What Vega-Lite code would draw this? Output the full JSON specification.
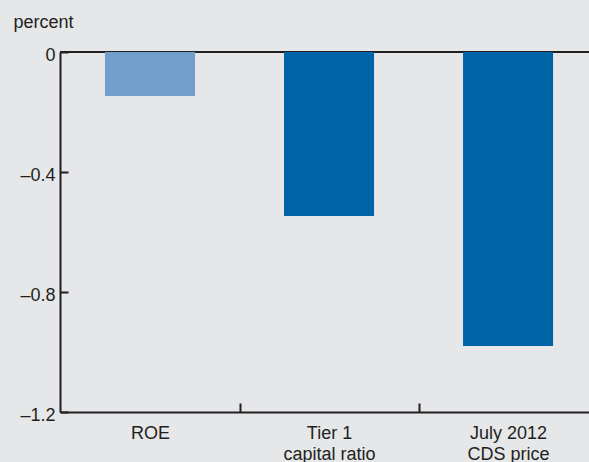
{
  "$schema": "https://vega.github.io/schema/vega-lite/v6.json",
  "width": 529,
  "height": 360,
  "autosize": {"type": "none"},
  "padding": {"left": 60, "top": 52, "right": 0, "bottom": 50},
  "background": "#e6e7e9",
  "config": {
    "view": {"stroke": null},
    "font": "Liberation Sans",
    "axis": {"labelFont": "Liberation Sans", "titleFont": "Liberation Sans", "labelColor": "#231f20", "titleColor": "#231f20", "grid": false, "domainColor": "#231f20", "tickColor": "#231f20"}
  },
  "data": {"values": [
    {"category": "ROE", "value": -0.147, "type": "light"},
    {"category": "Tier 1\ncapital ratio", "value": -0.547, "type": "dark"},
    {"category": "July 2012\nCDS price", "value": -0.98, "type": "dark"}
  ]},
  "layer": [
    {
      "mark": {"type": "rule", "color": "#231f20", "strokeWidth": 2},
      "encoding": {"y": {"datum": 0}}
    },
    {
      "mark": {"type": "bar", "orient": "vertical"},
      "encoding": {
        "x": {
          "field": "category",
          "type": "nominal",
          "sort": null,
          "scale": {"paddingInner": 0.497, "paddingOuter": 0.226, "align": 0.556},
          "axis": {
            "title": null,
            "labelAngle": 0,
            "labelFontSize": 18,
            "labelPadding": 21,
            "labelLineHeight": 21,
            "labelExpr": "split(datum.label, '\\n')",
            "tickOffset": 89.5,
            "labelOffset": -89.5,
            "tickSize": -9,
            "tickWidth": 2,
            "domainWidth": 2,
            "labelBaseline": "top"
          }
        },
        "y": {
          "field": "value",
          "type": "quantitative",
          "scale": {"domain": [-1.2, 0], "nice": false},
          "axis": {
            "values": [0, -0.4, -0.8, -1.2],
            "title": "percent",
            "titleAngle": 0,
            "titleAlign": "left",
            "titleBaseline": "alphabetic",
            "titleX": -47,
            "titleY": -25,
            "titleFontSize": 18,
            "titleFontWeight": "normal",
            "labelFontSize": 18,
            "labelPadding": 13,
            "labelOffset": 3,
            "tickSize": -8,
            "tickWidth": 2,
            "domainWidth": 2,
            "labelExpr": "datum.value == 0 ? '0' : '\u2013' + format(abs(datum.value), '.1f')"
          }
        },
        "color": {
          "field": "type",
          "type": "nominal",
          "scale": {"domain": ["light", "dark"], "range": ["#6f9fca", "#0065a6"]},
          "legend": null
        }
      }
    }
  ]
}
